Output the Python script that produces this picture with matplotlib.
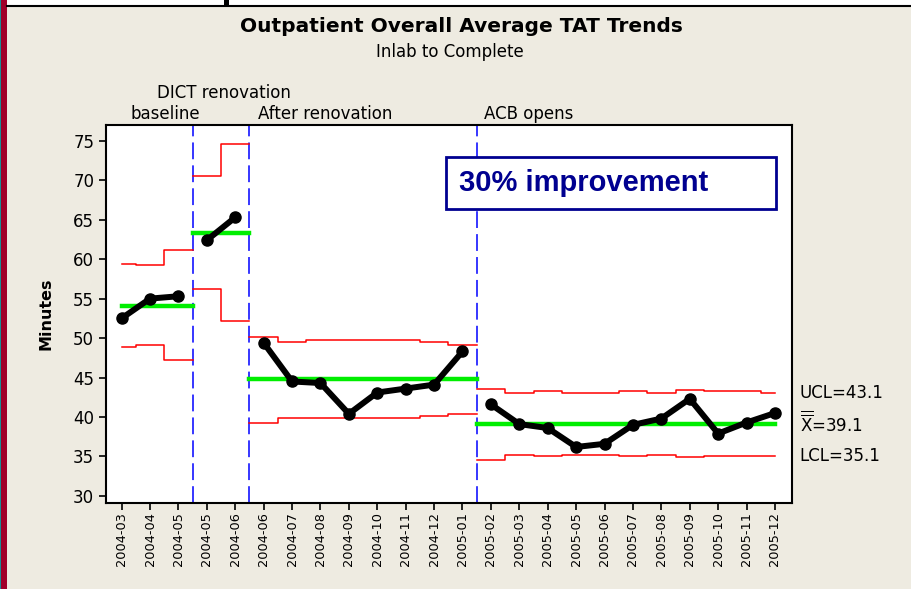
import numpy as np
import matplotlib
matplotlib.use("Agg")
import matplotlib.pyplot as plt
from matplotlib.patches import Rectangle

# month labels (two months repeat at the stage changes)
months = ["2004-03", "2004-04", "2004-05", "2004-05", "2004-06", "2004-06",
          "2004-07", "2004-08", "2004-09", "2004-10", "2004-11", "2004-12",
          "2005-01", "2005-02", "2005-03", "2005-04", "2005-05", "2005-06",
          "2005-07", "2005-08", "2005-09", "2005-10", "2005-11", "2005-12"]

# average turnaround time (minutes) per subgroup
tat = [52.5, 55.0, 55.3,
       62.4, 65.3,
       49.4, 44.5, 44.3, 40.4, 43.1, 43.6, 44.1, 48.3,
       41.6, 39.1, 38.6, 36.2, 36.6, 39.0, 39.8, 42.3, 37.9, 39.3, 40.5]

# control limits per subgroup
ucl = [59.4, 59.2, 61.2,
       70.5, 74.6,
       50.1, 49.5, 49.7, 49.7, 49.7, 49.7, 49.5, 49.1,
       43.6, 43.1, 43.3, 43.1, 43.1, 43.3, 43.1, 43.4, 43.3, 43.3, 43.1]
lcl = [48.9, 49.1, 47.2,
       56.2, 52.2,
       39.3, 39.9, 39.9, 39.9, 39.9, 39.9, 40.1, 40.4,
       34.6, 35.2, 35.0, 35.2, 35.2, 35.0, 35.2, 34.9, 35.0, 35.0, 35.1]

# stages: first index, last index, centre line
stage_names = ["baseline", "DICT renovation", "After renovation", "ACB opens"]
stage_first = [0, 3, 5, 13]
stage_last = [2, 4, 12, 23]
stage_mean = [54.1, 63.35, 44.75, 39.1]

BG = "#EEEBE1"
n = len(tat)
x = np.arange(n)

fig = plt.figure(figsize=(9.12, 5.89), dpi=100, facecolor=BG)
ax = fig.add_axes([106 / 912, 86 / 589, 686 / 912, 378 / 589])
ax.set_facecolor("white")

lo, hi = 0, n - 1
for k, (a, b) in enumerate(zip(stage_first, stage_last)):
    idx = np.arange(a, b + 1)
    # step lines for the limits
    edges = np.clip(np.concatenate([[a - 0.5], idx + 0.5]), lo, hi)
    sx = np.repeat(edges, 2)[1:-1]
    for lim in (ucl, lcl):
        sy = np.repeat(np.array(lim)[idx], 2)
        ax.plot(sx, sy, color="red", lw=1.1, zorder=2)
    # centre line
    ax.plot([edges[0], edges[-1]], [stage_mean[k]] * 2, color="#00EE00", lw=3.2, zorder=3)
    # data
    ax.plot(idx, np.array(tat)[idx], color="black", lw=4.3, marker="o", ms=8,
            solid_capstyle="round", zorder=4)
    if k > 0:
        ax.axvline(a - 0.5, color="#0000FF", lw=1.1, dashes=(11, 4), zorder=1)

ax.set_xlim(-0.55, 23.6)
ax.set_ylim(29.1, 77.0)
ax.set_yticks(np.arange(30, 80, 5))
ax.set_xticks(x)
ax.set_xticklabels(months, rotation=90, fontsize=9.3)
ax.tick_params(axis="y", labelsize=12, length=5, width=1.2, pad=3.5)
ax.tick_params(axis="x", length=5, width=1.2, pad=1.5)
for s in ax.spines.values():
    s.set_linewidth(1.5)
ax.set_ylabel("Minutes", fontsize=11.5, fontweight="bold", labelpad=14)

# stage labels above the plot
label_x = [0.33, 3.6, 4.8, 12.76]
label_ha = ["left", "center", "left", "left"]
label_dy = [1.2, 16.8, 1.2, 1.2]
for name, lx, ha, dy in zip(stage_names, label_x, label_ha, label_dy):
    ax.annotate(name, xy=(lx, 1), xycoords=("data", "axes fraction"),
                xytext=(0, dy), textcoords="offset points",
                ha=ha, va="bottom", fontsize=12)

# final limit values on the right
right_labels = ["UCL=%.1f" % ucl[-1],
                r"$\overline{\overline{\mathrm{X}}}$=%.1f" % stage_mean[-1],
                "LCL=%.1f" % lcl[-1]]
right_vals = [ucl[-1], stage_mean[-1], lcl[-1]]
right_dy = [0, 0.8, 0]
for txt, v, dy in zip(right_labels, right_vals, right_dy):
    ax.annotate(txt, xy=(1, v), xycoords=("axes fraction", "data"),
                xytext=(5.5, dy), textcoords="offset points",
                ha="left", va="center", fontsize=12, annotation_clip=False)

# improvement callout
ax.add_patch(Rectangle((0.4956, 0.777), 0.4811, 0.139, transform=ax.transAxes,
                       facecolor="white", edgecolor="#000090", lw=2, zorder=5))
ax.text(0.5146, 0.8466, "30% improvement", transform=ax.transAxes,
        fontsize=21, fontweight="bold", family="Liberation Sans",
        color="#000090", ha="left", va="center", zorder=6)

fig.text(461 / 912, 1 - 27 / 589, "Outpatient Overall Average TAT Trends",
         ha="center", va="center", fontsize=14.5, fontweight="bold")
fig.text(450 / 912, 1 - 52 / 589, "Inlab to Complete",
         ha="center", va="center", fontsize=12)

# window frame bits
fig.patches.append(Rectangle((0, 0), 7.5 / 912, 1, transform=fig.transFigure,
                             facecolor="#A0002A", edgecolor="none"))
fig.patches.append(Rectangle((0, 0), 1.5 / 912, 1, transform=fig.transFigure,
                             facecolor="#1A8C96", edgecolor="none"))
fig.patches.append(Rectangle((7.5 / 912, 1 - 5 / 589), 1, 5 / 589, transform=fig.transFigure,
                             facecolor="white", edgecolor="none"))
fig.lines.append(plt.Line2D([7.5 / 912, 1], [1 - 5.5 / 589] * 2, transform=fig.transFigure,
                            color="black", lw=1.5))
fig.patches.append(Rectangle((224 / 912, 1 - 5 / 589), 5 / 912, 5 / 589, transform=fig.transFigure,
                             facecolor="black", edgecolor="none"))

fig.savefig("out.png", dpi=100, facecolor=BG)
